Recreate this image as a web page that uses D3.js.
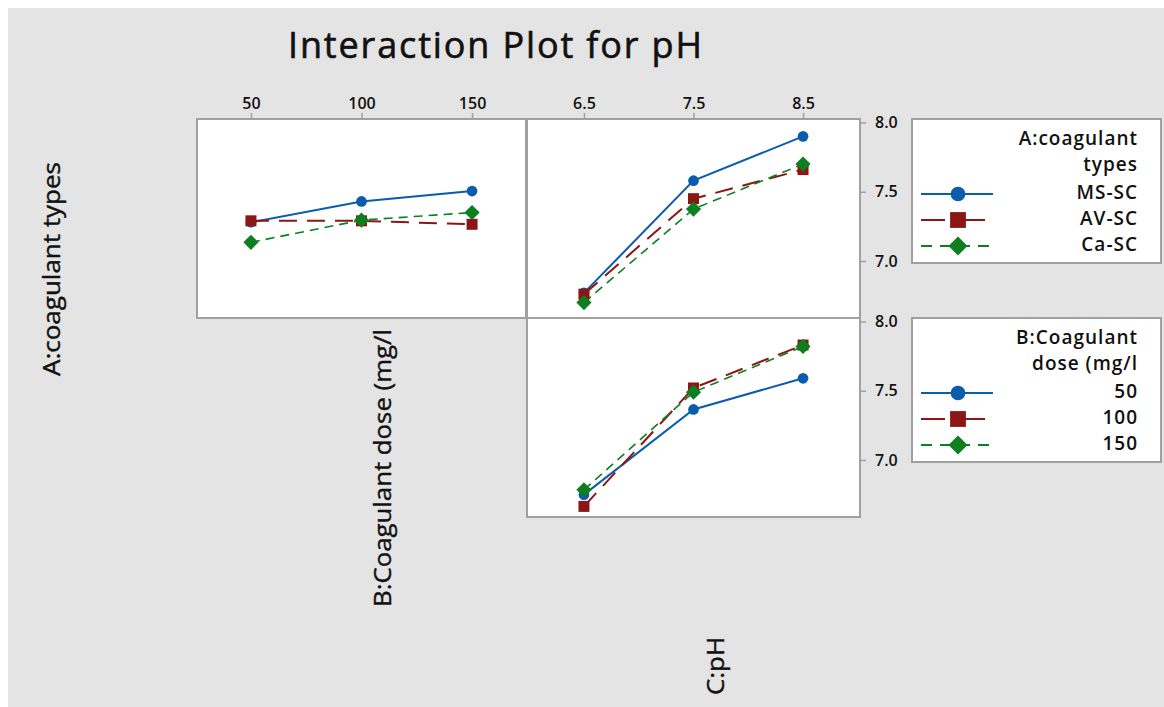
<!DOCTYPE html>
<html>
<head>
<meta charset="utf-8">
<script src="https://cdn.jsdelivr.net/npm/d3@7"></script>
<style>
  body { margin: 0; background: #fff; }
  text { font-family: "Open Sans", "Noto Sans", sans-serif; fill: #111; }
</style>
</head>
<body>
<svg id="chart" width="1164" height="707"></svg>
<script>
// factor levels
var doseLevels = [50, 100, 150];
var phLevels = [6.5, 7.5, 8.5];
var typeNames = ["MS-SC", "AV-SC", "Ca-SC"];
var doseNames = ["50", "100", "150"];
var yTicks = [7.0, 7.5, 8.0];

// mean pH, coagulant type vs dose (top left panel)
var msByDose = [7.28, 7.43, 7.505];
var avByDose = [7.29, 7.29, 7.265];
var caByDose = [7.135, 7.295, 7.35];

// mean pH, coagulant type vs pH (top right panel)
var msByPh = [6.77, 7.58, 7.90];
var avByPh = [6.76, 7.45, 7.66];
var caByPh = [6.70, 7.375, 7.70];

// mean pH, dose vs pH (bottom panel)
var d50ByPh = [6.75, 7.365, 7.59];
var d100ByPh = [6.665, 7.52, 7.83];
var d150ByPh = [6.785, 7.49, 7.82];

// series look: blue solid circle, red long dash square, green dash diamond
var colors = ["#0b5cad", "#8c1515", "#0d7f1e"];
var dashes = [null, "18,10", "9,6"];
var legendDashes = [null, "24,16,24", "11,8"];
var widths = [2, 2, 1.6];

var gridCol = "#a0a0a0";

// rotated square marker (minitab style diamond)
var diamondSq = {
  draw: function (ctx, size) {
    var h = Math.sqrt(size / 2);
    ctx.moveTo(0, -h); ctx.lineTo(h, 0); ctx.lineTo(0, h); ctx.lineTo(-h, 0); ctx.closePath();
  }
};
var shapes = [d3.symbolCircle, d3.symbolSquare, diamondSq];
var plotSizes = [90, 121, 115];
var legendSizes = [170, 250, 180];

var svg = d3.select("#chart");

// gray plot background
svg.append("rect").attr("x", 8).attr("y", 8).attr("width", 1156).attr("height", 699).attr("fill", "#e4e4e4");

svg.append("text")
  .attr("x", 495).attr("y", 58)
  .attr("text-anchor", "middle")
  .attr("textLength", 414)
  .style("font-size", "36px")
  .style("stroke", "#111").style("stroke-width", 0.6)
  .text("Interaction Plot for pH");

// panel geometry
var rowTop = [119, 318];
var panelH = 199;
var xDose = d3.scaleLinear().domain([25.6, 174.4]).range([197, 526]);
var xPh = d3.scaleLinear().domain([5.98, 9.02]).range([527, 860]);

function yScale(top) {
  return d3.scaleLinear().domain([7.0, 8.0]).range([top + 142, top + 3.5]);
}

function panel(x, top, seriesList, topAxis) {
  var y = yScale(top);
  var g = svg.append("g");
  g.append("rect")
    .attr("x", x.range()[0]).attr("y", top)
    .attr("width", x.range()[1] - x.range()[0]).attr("height", panelH)
    .attr("fill", "#fff").attr("stroke", gridCol).attr("stroke-width", 2);

  var line = d3.line().x(function (d) { return x(d[0]); }).y(function (d) { return y(d[1]); });

  seriesList.forEach(function (s, i) {
    var pts = s.levels.map(function (lv, j) { return [lv, s.vals[j]]; });
    g.append("path").datum(pts)
      .attr("d", line)
      .attr("fill", "none")
      .attr("stroke", colors[i])
      .attr("stroke-width", widths[i])
      .attr("stroke-dasharray", dashes[i]);
  });
  seriesList.forEach(function (s, i) {
    g.selectAll(null).data(s.vals).enter().append("path")
      .attr("transform", function (d, j) { return "translate(" + x(s.levels[j]) + "," + y(d) + ")"; })
      .attr("d", d3.symbol().type(shapes[i]).size(plotSizes[i]))
      .attr("fill", colors[i]);
  });

  if (topAxis) {
    var ax = svg.append("g").attr("transform", "translate(0," + top + ")")
      .call(d3.axisTop(x).tickValues(topAxis.values).tickFormat(topAxis.fmt).tickSize(6).tickPadding(4));
    ax.select(".domain").remove();
    ax.selectAll("line").attr("stroke", gridCol).attr("stroke-width", 1.5);
    ax.selectAll("text").style("font-size", "16px").style("font-weight", 600).attr("fill", "#111");
  }
}

function rightAxis(top) {
  var ax = svg.append("g").attr("transform", "translate(860,0)")
    .call(d3.axisRight(yScale(top)).tickValues(yTicks).tickFormat(d3.format(".1f")).tickSize(6).tickPadding(9));
  ax.select(".domain").remove();
  ax.selectAll("line").attr("stroke", gridCol).attr("stroke-width", 1.5);
  ax.selectAll("text").style("font-size", "16px").style("font-weight", 600).attr("fill", "#111");
}

panel(xDose, rowTop[0], [
  { levels: doseLevels, vals: msByDose },
  { levels: doseLevels, vals: avByDose },
  { levels: doseLevels, vals: caByDose }
], { values: doseLevels, fmt: d3.format("d") });

panel(xPh, rowTop[0], [
  { levels: phLevels, vals: msByPh },
  { levels: phLevels, vals: avByPh },
  { levels: phLevels, vals: caByPh }
], { values: phLevels, fmt: d3.format(".1f") });

panel(xPh, rowTop[1], [
  { levels: phLevels, vals: d50ByPh },
  { levels: phLevels, vals: d100ByPh },
  { levels: phLevels, vals: d150ByPh }
], null);

// right edge acts as the y axis line
svg.append("line").attr("x1", 860).attr("x2", 860).attr("y1", 118).attr("y2", 518)
  .attr("stroke", gridCol).attr("stroke-width", 2);
rightAxis(rowTop[0]);
rightAxis(rowTop[1]);

// factor labels down the diagonal
var factorLabels = [
  { text: "A:coagulant types", x: 60, y: 269, len: 214 },
  { text: "B:Coagulant dose (mg/l", x: 391, y: 468, len: 278 },
  { text: "C:pH", x: 724, y: 666, len: 58 }
];
factorLabels.forEach(function (f) {
  svg.append("text")
    .attr("transform", "translate(" + f.x + "," + f.y + ") rotate(-90)")
    .attr("text-anchor", "middle")
    .attr("textLength", f.len)
    .attr("lengthAdjust", "spacingAndGlyphs")
    .style("font-size", "23px")
    .style("stroke", "#111").style("stroke-width", 0.4)
    .text(f.text);
});

// legends
function legend(top, titleLines, names) {
  var g = svg.append("g").attr("transform", "translate(0," + top + ")");
  g.append("rect").attr("x", 912).attr("y", 0).attr("width", 249).attr("height", 144)
    .attr("fill", "#fff").attr("stroke", gridCol).attr("stroke-width", 2);
  titleLines.forEach(function (t, i) {
    g.append("text").attr("x", 1138).attr("y", 26 + i * 26)
      .attr("text-anchor", "end")
      .style("font-size", "19px").style("font-weight", 600).style("letter-spacing", "1px")
      .text(t);
  });
  names.forEach(function (n, i) {
    var by = 80 + i * 26;
    g.append("line").attr("x1", 921).attr("x2", i == 1 ? 985 : 993)
      .attr("y1", by - 5).attr("y2", by - 5)
      .attr("stroke", colors[i]).attr("stroke-width", 2.2)
      .attr("stroke-dasharray", legendDashes[i]);
    g.append("path").attr("transform", "translate(958," + (by - 5) + ")")
      .attr("d", d3.symbol().type(shapes[i]).size(legendSizes[i]))
      .attr("fill", colors[i]);
    g.append("text").attr("x", 1138).attr("y", by)
      .attr("text-anchor", "end")
      .style("font-size", "19px").style("font-weight", 600).style("letter-spacing", "1px")
      .text(n);
  });
}
legend(119, ["A:coagulant", "types"], typeNames);
legend(318, ["B:Coagulant", "dose (mg/l"], doseNames);
</script>
</body>
</html>
